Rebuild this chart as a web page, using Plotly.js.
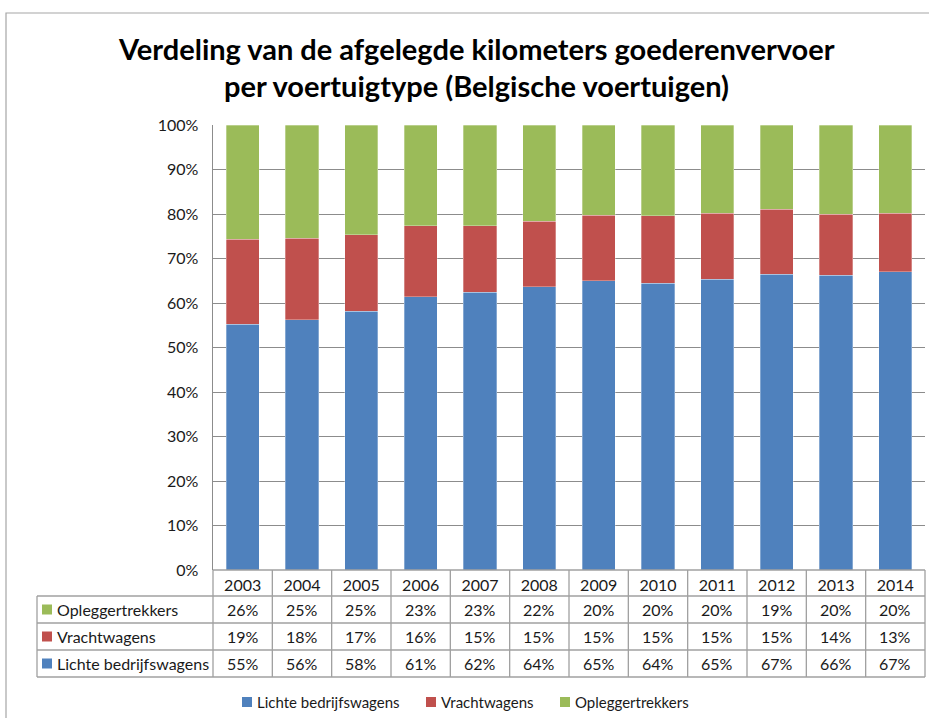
<!DOCTYPE html>
<html>
<head>
<meta charset="utf-8">
<script src="https://cdn.plot.ly/plotly-3.0.1.min.js"></script>
<style>html,body{margin:0;padding:0;background:#fff;}#chart{width:929px;height:718px;}</style>
</head>
<body>
<div id="chart"></div>
<script>
// ---- data ----
var years = ['2003','2004','2005','2006','2007','2008','2009','2010','2011','2012','2013','2014'];
var lichte = [55.2, 56.2, 58.1, 61.4, 62.4, 63.6, 65.0, 64.4, 65.3, 66.5, 66.2, 67.0];
var vracht = [19.1, 18.4, 17.2, 16.0, 15.0, 14.8, 14.7, 15.2, 14.9, 14.6, 13.8, 13.2];
var oplegger = [25.7, 25.4, 24.7, 22.6, 22.6, 21.6, 20.3, 20.4, 19.8, 18.9, 20.0, 19.8];
var tableOplegger = ['26%','25%','25%','23%','23%','22%','20%','20%','20%','19%','20%','20%'];
var tableVracht = ['19%','18%','17%','16%','15%','15%','15%','15%','15%','15%','14%','13%'];
var tableLichte = ['55%','56%','58%','61%','62%','64%','65%','64%','65%','67%','66%','67%'];
var seriesNames = ['Lichte bedrijfswagens','Vrachtwagens','Opleggertrekkers'];
var titleLines = ['Verdeling van de afgelegde kilometers goederenvervoer','per voertuigtype (Belgische voertuigen)'];
var colors = ['#4F81BD','#C0504D','#9BBB59'];

// ---- geometry helpers (pixel -> paper) ----
var W = 929, H = 718;
var L = 213, R = 925, T = 125, B = 570;
function px(x){ return (x - L) / (R - L); }
function py(y){ return (B - y) / (B - T); }

var FONT = 'Lato, "Noto Sans", sans-serif';
var gridCol = '#8C8C8C', tblCol = '#A0A0A0', txtCol = '#1a1a1a';

var vals = [lichte, vracht, oplegger];
var traces = vals.map(function(v, i){
  return {type:'bar', x: years, y: v, name: seriesNames[i], width: 0.56,
    marker:{color: colors[i], line:{color:'rgba(255,255,255,0.5)', width:0.6}},
    showlegend:false, hoverinfo:'skip'};
});

var shapes = [], ann = [];
// outer frame
shapes.push({type:'rect', xref:'paper', yref:'paper', x0:px(6), x1:px(940), y0:py(13), y1:py(740),
  line:{color:'#A6A6A6', width:1.2}, fillcolor:'rgba(0,0,0,0)', layer:'below'});

// title
ann.push({xref:'paper', yref:'paper', x:px(476), y:py(48), xanchor:'center', yanchor:'middle', showarrow:false,
  text:'<b>' + titleLines[0] + '</b>', font:{family:FONT, size:29, color:'#000'}});
ann.push({xref:'paper', yref:'paper', x:px(476), y:py(85), xanchor:'center', yanchor:'middle', showarrow:false,
  text:'<b>' + titleLines[1] + '</b>', font:{family:FONT, size:29, color:'#000'}});

// table rows
var rowTops = [570, 596, 623, 650, 677];
shapes.push({type:'line', xref:'paper', yref:'paper', x0:px(L), x1:px(R), y0:py(570), y1:py(570), line:{color:tblCol, width:1.3}});
[596,623,650,677].forEach(function(y){
  shapes.push({type:'line', xref:'paper', yref:'paper', x0:px(37), x1:px(R), y0:py(y), y1:py(y), line:{color:tblCol, width:1.3}});
});
shapes.push({type:'line', xref:'paper', yref:'paper', x0:px(37), x1:px(37), y0:py(596), y1:py(677), line:{color:tblCol, width:1.3}});
for (var c = 0; c <= years.length; c++){
  var xx = L + c * (R - L) / years.length;
  shapes.push({type:'line', xref:'paper', yref:'paper', x0:px(xx), x1:px(xx), y0:py(570), y1:py(677), line:{color:tblCol, width:1.3}});
}
var rowSeries = [2, 1, 0];
var rowTexts = [tableOplegger, tableVracht, tableLichte];
rowSeries.forEach(function(s, r){
  var yc = (rowTops[r+1] + rowTops[r+2]) / 2;
  shapes.push({type:'rect', xref:'paper', yref:'paper', x0:px(42), x1:px(52), y0:py(yc-5), y1:py(yc+5),
    line:{width:0}, fillcolor: colors[s]});
  ann.push({xref:'paper', yref:'paper', x:px(55), y:py(yc), xanchor:'left', yanchor:'middle',
    text: seriesNames[s], showarrow:false, font:{family:FONT, size:16, color:txtCol}});
  for (var k = 0; k < years.length; k++){
    ann.push({xref:'x', yref:'paper', x: k, y: py(yc), xanchor:'center', yanchor:'middle',
      text: rowTexts[r][k], showarrow:false, font:{family:FONT, size:16, color:txtCol}});
  }
});

// bottom legend
var legItems = [{s:0, x:242}, {s:1, x:426}, {s:2, x:560}];
legItems.forEach(function(it){
  shapes.push({type:'rect', xref:'paper', yref:'paper', x0:px(it.x), x1:px(it.x+10), y0:py(697), y1:py(707),
    line:{width:0}, fillcolor: colors[it.s]});
  ann.push({xref:'paper', yref:'paper', x:px(it.x+13), y:py(702), xanchor:'left', yanchor:'middle',
    text: seriesNames[it.s], showarrow:false, font:{family:FONT, size:15, color:txtCol}});
});

var layout = {
  width: W, height: H,
  margin:{l:L, r:W-R, t:T, b:H-B, pad:0},
  paper_bgcolor:'#fff', plot_bgcolor:'#fff',
  barmode:'stack',
  xaxis:{type:'category', range:[-0.5, years.length - 0.5], autorange:false, showgrid:false, zeroline:false, showline:false, ticks:'',
    tickfont:{family:FONT, size:16, color:txtCol}, ticklabelstandoff:4, fixedrange:true},
  yaxis:{range:[0,100], autorange:false, dtick:10, ticksuffix:'%', showgrid:true, gridcolor:gridCol, gridwidth:1,
    zeroline:false, showline:true, linecolor:gridCol, linewidth:1.5, ticks:'',
    tickfont:{family:FONT, size:16, color:txtCol}, ticklabelstandoff:10, fixedrange:true},
  shapes: shapes, annotations: ann, showlegend:false
};
Plotly.newPlot('chart', traces, layout, {displayModeBar:false, staticPlot:true});
</script>
</body>
</html>
